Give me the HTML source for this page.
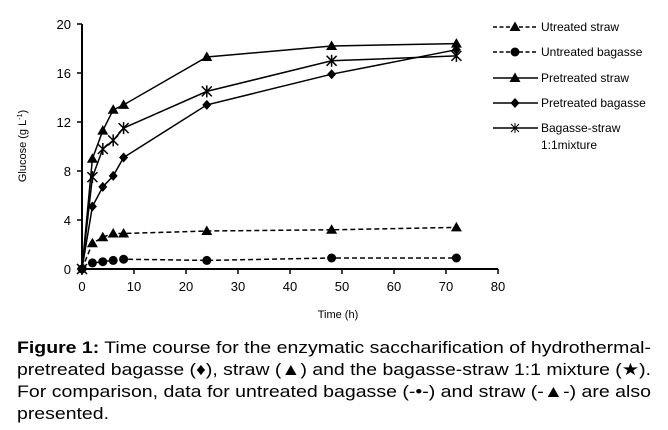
<!DOCTYPE html>
<html><head><meta charset="utf-8"><style>
html,body{margin:0;padding:0;background:#fff;}
svg{display:block;font-family:"Liberation Sans",Arial,sans-serif;}
</style></head><body>
<svg width="668" height="430" viewBox="0 0 668 430" xmlns="http://www.w3.org/2000/svg">
<defs>
<path id="tri" d="M0,-5.5 L5.5,4 L-5.5,4 Z" fill="#000"/>
<circle id="dot" r="4.5" fill="#000"/>
<path id="dia" d="M0,-5 L4.5,0 L0,5 L-4.5,0 Z" fill="#000"/>
<path id="star" d="M-5,-5 L5,5 M-5,5 L5,-5 M0,-6 L0,6" stroke="#000" stroke-width="1.5" fill="none"/>
</defs>
<g stroke="#000" stroke-width="2" fill="none">
<line x1="82" y1="24" x2="82" y2="270"/>
<line x1="81" y1="269" x2="498" y2="269"/>
</g>
<g stroke="#000" stroke-width="1.5">
<line x1="77" y1="24" x2="82" y2="24"/><line x1="77" y1="73" x2="82" y2="73"/><line x1="77" y1="122" x2="82" y2="122"/><line x1="77" y1="171" x2="82" y2="171"/><line x1="77" y1="220" x2="82" y2="220"/><line x1="77" y1="269" x2="82" y2="269"/>
<line x1="82" y1="269" x2="82" y2="274"/><line x1="134" y1="269" x2="134" y2="274"/><line x1="186" y1="269" x2="186" y2="274"/><line x1="238" y1="269" x2="238" y2="274"/><line x1="290" y1="269" x2="290" y2="274"/><line x1="342" y1="269" x2="342" y2="274"/><line x1="394" y1="269" x2="394" y2="274"/><line x1="446" y1="269" x2="446" y2="274"/><line x1="498" y1="269" x2="498" y2="274"/>
</g>
<g font-size="13" text-anchor="end" fill="#000">
<text x="71" y="29">20</text><text x="71" y="78">16</text><text x="71" y="127">12</text><text x="71" y="176">8</text><text x="71" y="225">4</text><text x="71" y="274">0</text>
</g>
<g font-size="13" text-anchor="middle" fill="#000">
<text x="82" y="291">0</text><text x="134" y="291">10</text><text x="186" y="291">20</text><text x="238" y="291">30</text><text x="290" y="291">40</text><text x="342" y="291">50</text><text x="394" y="291">60</text><text x="446" y="291">70</text><text x="498" y="291">80</text>
<text x="338" y="318" font-size="11">Time (h)</text>
<text transform="translate(26,146) rotate(-90)" font-size="11">Glucose (g L<tspan dy="-4" font-size="7">-1</tspan><tspan dy="4">)</tspan></text>
</g>
<g fill="none" stroke="#000" stroke-width="1.5">
<polyline points="82,269 92.4,158.8 102.8,130.6 113.2,109.8 123.6,104.9 206.8,57 331.6,46 456.4,43.6"/>
<polyline points="82,269 92.4,177.1 102.8,149 113.2,140.4 123.6,128.1 206.8,91.4 331.6,60.8 456.4,55.9"/>
<polyline points="82,269 92.4,206.5 102.8,186.9 113.2,175.9 123.6,157.5 206.8,104.9 331.6,74.2 456.4,49.7"/>
<polyline stroke-dasharray="5,3" points="82,269 92.4,243.3 102.8,237.2 113.2,233.5 123.6,233.5 206.8,231 331.6,229.8 456.4,227.4"/>
<polyline stroke-dasharray="5,3" points="82,269 92.4,262.9 102.8,261.7 113.2,260.4 123.6,259.2 206.8,260.4 331.6,258 456.4,258"/>
</g>
<g>
<use href="#tri" x="92.4" y="158.8"/><use href="#tri" x="102.8" y="130.6"/><use href="#tri" x="113.2" y="109.8"/><use href="#tri" x="123.6" y="104.9"/><use href="#tri" x="206.8" y="57"/><use href="#tri" x="331.6" y="46"/><use href="#tri" x="456.4" y="43.6"/>
<use href="#star" x="82" y="269"/><use href="#star" x="92.4" y="177.1"/><use href="#star" x="102.8" y="149"/><use href="#star" x="113.2" y="140.4"/><use href="#star" x="123.6" y="128.1"/><use href="#star" x="206.8" y="91.4"/><use href="#star" x="331.6" y="60.8"/><use href="#star" x="456.4" y="55.9"/>
<use href="#dia" x="92.4" y="206.5"/><use href="#dia" x="102.8" y="186.9"/><use href="#dia" x="113.2" y="175.9"/><use href="#dia" x="123.6" y="157.5"/><use href="#dia" x="206.8" y="104.9"/><use href="#dia" x="331.6" y="74.2"/><use href="#dia" x="456.4" y="49.7"/>
<use href="#tri" x="92.4" y="243.3"/><use href="#tri" x="102.8" y="237.2"/><use href="#tri" x="113.2" y="233.5"/><use href="#tri" x="123.6" y="233.5"/><use href="#tri" x="206.8" y="231"/><use href="#tri" x="331.6" y="229.8"/><use href="#tri" x="456.4" y="227.4"/>
<use href="#dot" x="82" y="269"/><use href="#dot" x="92.4" y="262.9"/><use href="#dot" x="102.8" y="261.7"/><use href="#dot" x="113.2" y="260.4"/><use href="#dot" x="123.6" y="259.2"/><use href="#dot" x="206.8" y="260.4"/><use href="#dot" x="331.6" y="258"/><use href="#dot" x="456.4" y="258"/>
</g>
<g stroke="#000" stroke-width="1.5" fill="none">
<line x1="493" y1="27" x2="538" y2="27" stroke-dasharray="4,2.5"/>
<line x1="493" y1="52" x2="538" y2="52" stroke-dasharray="4,2.5"/>
<line x1="493" y1="78" x2="538" y2="78"/>
<line x1="493" y1="103" x2="538" y2="103"/>
<line x1="493" y1="128" x2="538" y2="128"/>
</g>
<use href="#tri" x="515" y="27"/><use href="#dot" x="515" y="52"/><use href="#tri" x="515" y="78"/><use href="#dia" x="515" y="103"/>
<path d="M511,124 L519,132 M511,132 L519,124 M515,123 L515,133" stroke="#000" stroke-width="1"/>
<g font-size="12" fill="#000">
<text x="541" y="31">Utreated straw</text>
<text x="541" y="56">Untreated bagasse</text>
<text x="541" y="82">Pretreated straw</text>
<text x="541" y="107">Pretreated bagasse</text>
<text x="541" y="132">Bagasse-straw</text>
<text x="541" y="149">1:1mixture</text>
</g>
<g font-family="'Liberation Sans Narrow','Liberation Sans',Arial,sans-serif" font-size="17" fill="#000">
<text x="17" y="353" textLength="634" lengthAdjust="spacingAndGlyphs"><tspan font-weight="bold">Figure 1:</tspan> Time course for the enzymatic saccharification of hydrothermal-</text>
<text x="17" y="375" textLength="634" lengthAdjust="spacingAndGlyphs">pretreated bagasse (♦), straw (▲) and the bagasse-straw 1:1 mixture (★).</text>
<text x="17" y="397" textLength="634" lengthAdjust="spacingAndGlyphs">For comparison, data for untreated bagasse (-•-) and straw (-▲-) are also</text>
<text x="17" y="419" textLength="92" lengthAdjust="spacingAndGlyphs">presented.</text>
</g>
</svg>
</body></html>
